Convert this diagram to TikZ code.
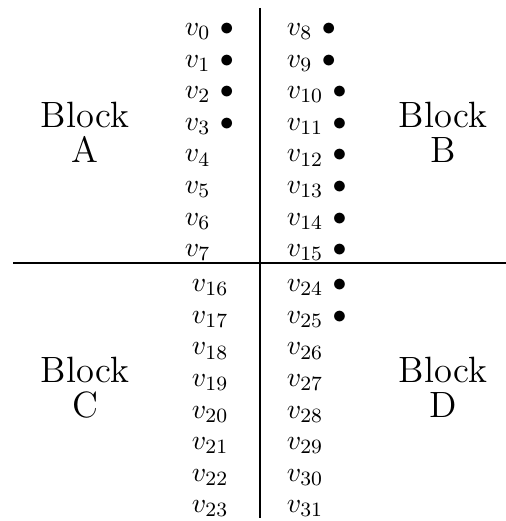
\documentclass[tikz,border=0pt]{standalone}
\usepackage{tikz}
\usetikzlibrary{positioning}
\tikzstyle{vlabel} = [rectangle, inner sep=0pt, text width=1.1cm, align=left, text height=7.5pt, text depth=2.2pt, font=\fontsize{10.95pt}{13.6pt}\selectfont]
\tikzstyle{block} = [rectangle, inner sep=0pt, align=center, font=\fontsize{14.4pt}{13.8pt}\selectfont]
\tikzstyle{divider} = [line width=1pt]

\begin{document}
\begin{tikzpicture}[node distance=0.437cm]
\useasboundingbox (0,0) rectangle (7.0,7.21);

%% NODES

\node (v0) [vlabel] at (3.11,6.81) {$v_{0}$ $\bullet$};
\node (v1) [vlabel, below of=v0] {$v_{1}$ $\bullet$};
\node (v2) [vlabel, below of=v1] {$v_{2}$ $\bullet$};
\node (v3) [vlabel, below of=v2] {$v_{3}$ $\bullet$};
\node (v4) [vlabel, below of=v3] {$v_{4}$};
\node (v5) [vlabel, below of=v4] {$v_{5}$};
\node (v6) [vlabel, below of=v5] {$v_{6}$};
\node (v7) [vlabel, below of=v6] {$v_{7}$};

\node (v8) [vlabel] at (4.521,6.81) {$v_{8}$ $\bullet$};
\node (v9) [vlabel, below of=v8] {$v_{9}$ $\bullet$};
\node (v10) [vlabel, below of=v9] {$v_{10}$ $\bullet$};
\node (v11) [vlabel, below of=v10] {$v_{11}$ $\bullet$};
\node (v12) [vlabel, below of=v11] {$v_{12}$ $\bullet$};
\node (v13) [vlabel, below of=v12] {$v_{13}$ $\bullet$};
\node (v14) [vlabel, below of=v13] {$v_{14}$ $\bullet$};
\node (v15) [vlabel, below of=v14] {$v_{15}$ $\bullet$};

\node (v16) [vlabel] at (3.207,3.266) {$v_{16}$};
\node (v17) [vlabel, below of=v16] {$v_{17}$};
\node (v18) [vlabel, below of=v17] {$v_{18}$};
\node (v19) [vlabel, below of=v18] {$v_{19}$};
\node (v20) [vlabel, below of=v19] {$v_{20}$};
\node (v21) [vlabel, below of=v20] {$v_{21}$};
\node (v22) [vlabel, below of=v21] {$v_{22}$};
\node (v23) [vlabel, below of=v22] {$v_{23}$};

\node (v24) [vlabel] at (4.521,3.266) {$v_{24}$ $\bullet$};
\node (v25) [vlabel, below of=v24] {$v_{25}$ $\bullet$};
\node (v26) [vlabel, below of=v25] {$v_{26}$};
\node (v27) [vlabel, below of=v26] {$v_{27}$};
\node (v28) [vlabel, below of=v27] {$v_{28}$};
\node (v29) [vlabel, below of=v28] {$v_{29}$};
\node (v30) [vlabel, below of=v29] {$v_{30}$};
\node (v31) [vlabel, below of=v30] {$v_{31}$};

\node (blockA) [block] at (1.176,5.385) {Block\\A};
\node (blockB) [block] at (6.13,5.385) {Block\\B};
\node (blockC) [block] at (1.176,1.847) {Block\\C};
\node (blockD) [block] at (6.13,1.847) {Block\\D};

%% LINES

\coordinate (vtop) at (3.6,7.10);
\coordinate (vbot) at (3.6,0.04);
\coordinate (hleft) at (0.18,3.57);
\coordinate (hright) at (7.0,3.57);
\draw [divider] (vtop) -- (vbot);
\draw [divider] (hleft) -- (hright);

\end{tikzpicture}
\end{document}
